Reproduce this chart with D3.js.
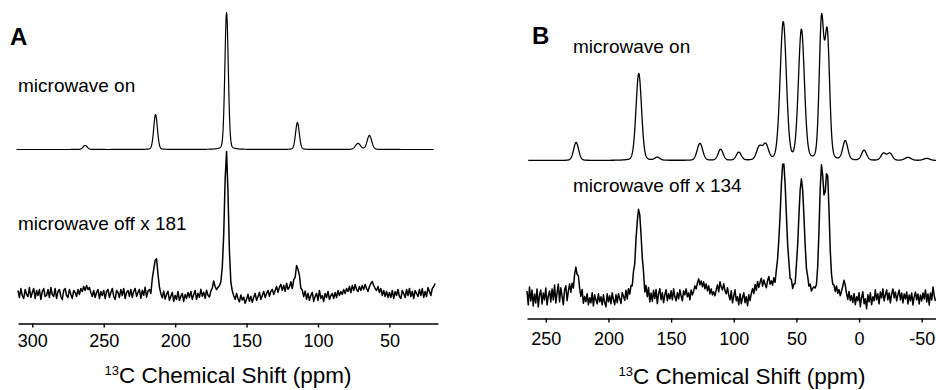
<!DOCTYPE html>
<html>
  <head>
    <meta charset="utf-8" />
    <title>13C DNP spectra</title>
    <script src="https://d3js.org/d3.v7.min.js"></script>
    <style>
      body { margin: 0; background: #fff; }
      text { font-family: "Liberation Sans", Arial, sans-serif; fill: #000; }
    </style>
  </head>
  <body>
    <svg width="936" height="390"></svg>
    <script>
      // ---- data ----
      let ticksA = [300, 250, 200, 150, 100, 50];
      let ticksB = [250, 200, 150, 100, 50, 0, -50];

      // peaks: [ppm, height, sigma(ppm)]
      let peaksOnA = [[263, 4, 1.5], [213.7, 35, 1.3], [164, 137, 1.2], [114.4, 27, 1.3], [72, 6, 1.8], [64, 14, 1.6]];
      let peaksOffA = [[213.7, 36, 1.4], [164, 136, 1.3], [114.4, 25, 1.5]];
      let peaksOnB = [[225.8, 18, 2.0], [175.8, 87, 2.2], [161, 3, 2.0], [127, 17, 2.2], [110.5, 11, 2.0],
        [96, 8, 2.0], [79.6, 13, 2.2], [74.5, 15, 2.2], [60.5, 138, 2.5], [46, 130, 2.4], [30, 136, 1.8],
        [25.4, 124, 1.9], [11, 19, 2.0], [-4, 10, 2.0], [-19.5, 7, 2.0], [-24.6, 7, 2.0], [-39, 3, 2.5], [-54, 2, 2.5]];
      let peaksOffB = [[225.8, 20, 2.0], [175.8, 88, 2.2], [60.5, 135, 2.5], [46, 117, 2.3], [30, 126, 1.7], [25.4, 120, 1.7]];

      // baseline + noise of the "off" traces, one value per ppm
      // A: 310 -> 18 ppm
      let residOffA = [
        3,-4,5,-2,-5,4,-1,-3,6,-4,1,5,-5,3,-2,4,-6,2,5,-3,
        -2,4,-4,6,-1,-3,5,-5,2,4,-3,-6,3,5,-2,-4,4,-1,-5,3,
        1,-3,4,-1,5,2,7,3,8,4,6,1,-3,3,-4,1,4,-5,2,-2,
        3,-5,2,4,-4,1,5,-3,-6,3,1,-4,4,-2,5,-5,1,3,-3,4,
        -4,2,5,-3,1,4,-5,3,-2,6,-4,2,3,-3,5,1,-2,3,2,0,
        -2,-5,2,-6,-1,2,-7,-3,1,-8,-2,-6,2,-7,-3,0,-8,-1,-5,1,
        -4,2,-6,-1,3,-6,0,-4,4,-3,1,-5,3,-2,-4,2,5,12,6,3,
        5,6,8,14,16,14,6,0,-1,-1,-1,-4,-7,-1,-6,-9,-2,-7,-4,-10,
        -6,-1,-8,-3,-9,-4,0,-7,-3,1,-6,-2,2,-4,0,3,-3,2,4,-1,
        3,7,1,6,9,3,8,2,10,4,6,11,3,8,2,5,0,2,-2,1,
        -4,2,-6,0,-7,-2,1,-8,-3,0,-7,3,-5,-2,-8,0,-4,2,-6,-2,
        0,-5,1,-4,3,-2,2,-1,4,0,5,2,7,1,8,3,9,4,2,7,
        3,8,4,9,5,2,7,10,12,8,5,3,7,1,5,-2,3,-3,2,-4,
        1,-4,3,-5,2,-2,4,-3,-5,3,0,-4,4,-2,5,-3,2,-5,3,0,
        -3,4,-2,5,-4,2,-3,6,2,-2,5,7,10
      ];
      // B: 265 -> -61 ppm
      let residOffB = [
        6,-8,10,-4,7,-9,3,-6,8,-10,2,7,-7,4,-3,9,-8,1,6,-5,
        8,-3,12,-6,4,13,-5,9,1,-8,7,11,-4,5,12,2,8,-2,6,10,
        4,8,1,-3,6,-7,0,-5,3,-8,-1,-6,4,-9,2,-3,-7,3,-5,0,
        -8,2,-6,-10,3,-5,1,-7,4,-3,-8,2,-6,3,-2,-7,4,0,-4,6,
        -3,7,1,8,4,10,2,5,0,0,0,0,0,4,-5,7,-2,8,-6,3,
        -5,6,-2,7,-7,3,8,-3,4,-6,2,7,-4,3,-2,6,-3,8,0,-4,
        4,-2,7,1,-4,6,2,8,0,4,-3,7,2,6,11,8,14,18,12,16,
        10,15,8,13,6,11,3,8,2,5,1,7,12,5,15,10,7,13,6,3,
        9,2,-3,6,-6,1,7,-4,0,-8,3,-7,-1,4,-6,0,-9,2,-4,3,
        8,3,12,6,15,9,14,18,10,16,12,8,15,19,11,14,9,15,7,12,
        9,6,0,0,0,0,0,0,0,5,2,8,1,4,-2,3,0,0,0,0,
        0,0,0,0,6,3,8,2,5,6,3,0,0,0,0,0,0,0,0,0,
        0,0,0,3,5,8,3,9,2,6,0,5,10,16,11,3,-3,5,-4,1,
        -6,3,-8,0,-4,4,-10,-1,5,-7,-2,-12,2,-5,4,-8,0,-4,7,-3,
        3,-7,5,-1,8,-4,2,7,-3,4,-6,3,8,-1,5,-4,2,7,-3,4,
        -6,3,-2,5,-7,2,-4,4,-8,0,5,-3,3,-7,2,-4,4,-2,7,-5,
        3,-8,4,-3,10,1,-4
      ];

      let svg = d3.select("svg");

      // peak shape: mostly gaussian with a small lorentzian skirt
      function lineshape(peaks, ppm) {
        let v = 0;
        peaks.forEach(([p0, h, s]) => {
          let d = ppm - p0;
          let g = Math.exp(-0.5 * (d / s) * (d / s));
          let hw = 1.1774 * s;
          let l = 1 / (1 + (d / hw) * (d / hw));
          v += h * (0.85 * g + 0.15 * l);
        });
        return v;
      }

      function smoothTrace(peaks, from, to) {
        let pts = [];
        for (let p = from; p >= to; p -= 0.2) pts.push([p, lineshape(peaks, p)]);
        return pts;
      }
      function noisyTrace(peaks, resid, from) {
        return resid.map((r, i) => [from - i, lineshape(peaks, from - i) + r]);
      }

      function drawPanel(cfg) {
        let g = svg.append("g");
        let x = d3.scaleLinear().domain(cfg.domain).range(cfg.range);
        let y = d3.scaleLinear().domain([0, 330]).range([cfg.axisY, cfg.axisY - 330]);

        let axis = d3.axisBottom(x).tickValues(cfg.ticks).tickFormat((d) => String(d))
          .tickSizeInner(4).tickSizeOuter(0).tickPadding(cfg.pad);
        let ax = g.append("g").attr("transform", `translate(0,${cfg.axisY})`).call(axis);
        ax.select(".domain").attr("stroke-width", 1.6);
        ax.selectAll(".tick line").attr("stroke-width", 1.4);
        ax.selectAll(".tick text").attr("font-size", 18).attr("font-family", "Liberation Sans, Arial, sans-serif");

        cfg.traces.forEach((t) => {
          let line = d3.line().x((d) => x(d[0])).y((d) => y(d[1] + t.offset));
          g.append("path").datum(t.pts).attr("d", line)
            .attr("fill", "none").attr("stroke", "#000")
            .attr("stroke-width", t.w).attr("stroke-linejoin", "round");
        });

        g.append("text").attr("x", cfg.letter[0]).attr("y", cfg.letter[1])
          .attr("font-size", 24).attr("font-weight", "bold").text(cfg.letter[2]);
        cfg.labels.forEach((l) => {
          g.append("text").attr("x", l[0]).attr("y", l[1]).attr("font-size", 19).text(l[2]);
        });

        let title = g.append("text").attr("x", cfg.title[0]).attr("y", cfg.title[1])
          .attr("text-anchor", "middle").attr("font-size", 22.5);
        title.append("tspan").attr("font-size", 13).attr("dy", -8).text("13");
        title.append("tspan").attr("dy", 8).text("C Chemical Shift (ppm)");
      }

      drawPanel({
        domain: [310, 16], range: [18, 438], axisY: 323.5, ticks: ticksA, pad: 7,
        traces: [
          { pts: smoothTrace(peaksOnA, 311, 19), offset: 174, w: 1.2 },
          { pts: noisyTrace(peaksOffA, residOffA, 310), offset: 30, w: 1.5 }
        ],
        letter: [10, 45, "A"],
        labels: [[18, 92, "microwave on"], [18, 230, "microwave off x 181"]],
        title: [228, 383]
      });

      drawPanel({
        domain: [265, -61.4], range: [527, 936], axisY: 318.5, ticks: ticksB, pad: 10,
        traces: [
          { pts: smoothTrace(peaksOnB, 264, -62), offset: 158, w: 1.3 },
          { pts: noisyTrace(peaksOffB, residOffB, 265), offset: 21.5, w: 1.5 }
        ],
        letter: [532, 44, "B"],
        labels: [[573, 53, "microwave on"], [573, 192, "microwave off x 134"]],
        title: [742, 384]
      });
    </script>
  </body>
</html>
